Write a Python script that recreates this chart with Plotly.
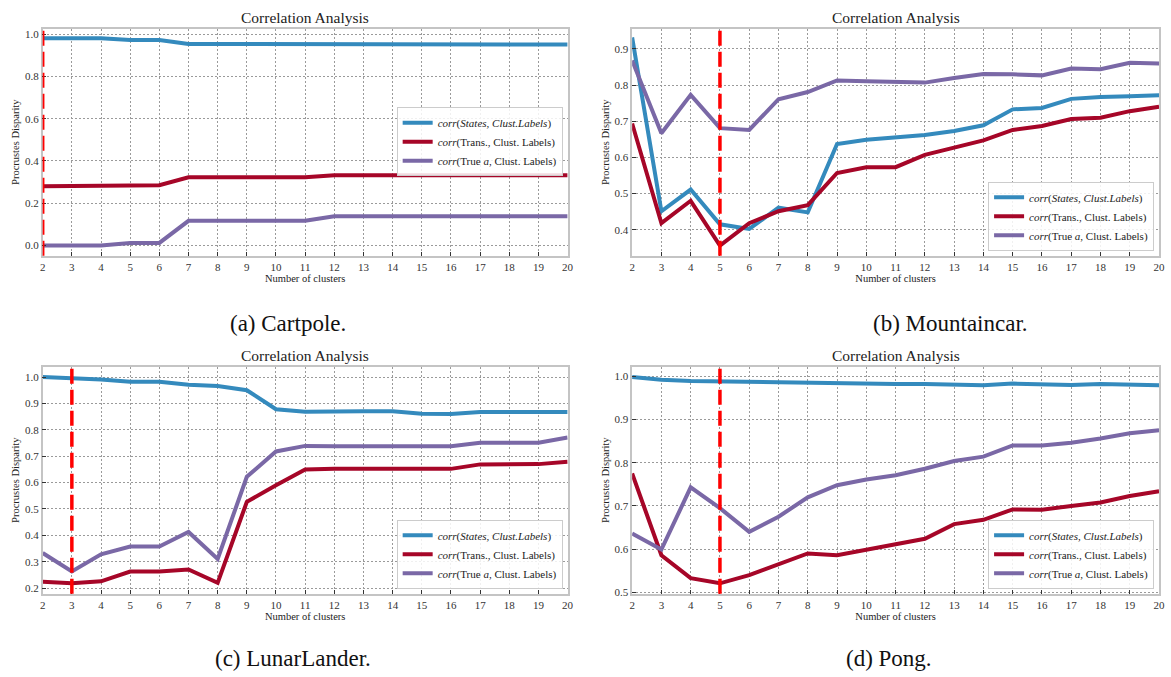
import plotly.graph_objects as go

clusters = list(range(2, 21))

# (a) Cartpole
cart_states = [0.98, 0.98, 0.98, 0.972, 0.972, 0.953, 0.953, 0.953, 0.953, 0.953, 0.95, 0.95, 0.95, 0.95, 0.95, 0.95, 0.95, 0.95, 0.95]
cart_trans = [0.281, 0.281, 0.281, 0.284, 0.285, 0.323, 0.323, 0.323, 0.323, 0.323, 0.333, 0.333, 0.333, 0.333, 0.333, 0.333, 0.333, 0.333, 0.333]
cart_true = [0.0, 0.0, 0.0, 0.0125, 0.0125, 0.117, 0.117, 0.117, 0.117, 0.117, 0.139, 0.139, 0.139, 0.139, 0.139, 0.139, 0.139, 0.139, 0.139]

# (b) Mountaincar
mount_states = [0.932, 0.451, 0.511, 0.415, 0.402, 0.461, 0.448, 0.637, 0.649, 0.656, 0.662, 0.673, 0.689, 0.733, 0.737, 0.762, 0.767, 0.769, 0.772]
mount_trans = [0.694, 0.418, 0.48, 0.356, 0.418, 0.451, 0.468, 0.557, 0.573, 0.573, 0.607, 0.626, 0.647, 0.676, 0.687, 0.706, 0.71, 0.728, 0.74]
mount_true = [0.868, 0.667, 0.773, 0.681, 0.676, 0.761, 0.781, 0.813, 0.811, 0.81, 0.807, 0.82, 0.831, 0.83, 0.827, 0.846, 0.844, 0.862, 0.86]

# (c) LunarLander
lunar_states = [1.0, 0.996, 0.991, 0.982, 0.982, 0.971, 0.966, 0.95, 0.878, 0.868, 0.87, 0.87, 0.87, 0.861, 0.86, 0.867, 0.867, 0.867, 0.867]
lunar_trans = [0.224, 0.219, 0.226, 0.263, 0.263, 0.271, 0.22, 0.527, 0.59, 0.65, 0.652, 0.652, 0.652, 0.652, 0.652, 0.669, 0.669, 0.67, 0.679]
lunar_true = [0.333, 0.263, 0.328, 0.358, 0.358, 0.413, 0.311, 0.622, 0.718, 0.739, 0.738, 0.738, 0.738, 0.738, 0.738, 0.751, 0.751, 0.751, 0.771]

# (d) Pong
pong_states = [0.998, 0.992, 0.989, 0.988, 0.986, 0.985, 0.984, 0.982, 0.982, 0.982, 0.982, 0.981, 0.979, 0.983, 0.982, 0.98, 0.982, 0.98, 0.979]
pong_trans = [0.775, 0.586, 0.533, 0.521, 0.54, 0.565, 0.59, 0.586, 0.599, 0.612, 0.624, 0.658, 0.668, 0.692, 0.691, 0.7, 0.708, 0.723, 0.734]
pong_true = [0.636, 0.599, 0.743, 0.695, 0.64, 0.675, 0.72, 0.748, 0.761, 0.771, 0.786, 0.804, 0.814, 0.84, 0.84, 0.846, 0.856, 0.868, 0.875]

chosen_k = [2, 5, 3, 5]
captions = ["(a) Cartpole.", "(b) Mountaincar.", "(c) LunarLander.", "(d) Pong."]
series_names = [
    "<i>corr</i>(<i>States, Clust.Labels</i>)",
    "<i>corr</i>(Trans., Clust. Labels)",
    "<i>corr</i>(True <i>a</i>, Clust. Labels)",
]
colors = ["#348ABD", "#A60628", "#7A68A6"]

panels = [
    [cart_states, cart_trans, cart_true],
    [mount_states, mount_trans, mount_true],
    [lunar_states, lunar_trans, lunar_true],
    [pong_states, pong_trans, pong_true],
]

W, H = 1171, 677
FONT = "Liberation Serif"

def px_x(p):
    return p / W

def px_y(p):
    return 1 - p / H

# layout geometry (pixels)
xdoms = [(40, 569), (634, 1165), (40, 569), (634, 1165)]
ydoms = [(28, 257), (28, 257), (369, 598), (369, 598)]
yranges = [(-0.048, 1.025), (0.328, 0.956), (0.179, 1.039), (0.497, 1.022)]
ydticks = [0.2, 0.1, 0.1, 0.1]
legend_pos = [
    (564, 142, "middle"),
    (1160, 252, "bottom"),
    (564, 593, "bottom"),
    (1160, 593, "bottom"),
]
caption_pos = [(287, 325), (955, 325), (292, 663), (893, 663)]

fig = go.Figure()
layout = dict(
    width=W, height=H,
    margin=dict(l=0, r=0, t=0, b=0),
    paper_bgcolor="white",
    plot_bgcolor="white",
    font=dict(family=FONT, color="#222222"),
    annotations=[],
    shapes=[],
)

for i in range(4):
    ax = "" if i == 0 else str(i + 1)
    xa = "x" + ax
    ya = "y" + ax
    leg = "legend" if i == 0 else "legend" + str(i + 1)
    for s in range(3):
        fig.add_trace(go.Scatter(
            x=clusters, y=panels[i][s], mode="lines", name=series_names[s],
            line=dict(color=colors[s], width=4),
            xaxis=xa, yaxis=ya, legend=leg, showlegend=True,
        ))
    x0, x1 = xdoms[i]
    y0, y1 = ydoms[i]
    common = dict(
        showline=True, linecolor="#c4c4c4", linewidth=1.5, mirror=True,
        showgrid=True, gridcolor="#9a9a9a", gridwidth=0.7, griddash="2px,2px",
        ticks="inside", ticklen=4, tickcolor="#333333", tickwidth=1,
        zeroline=False, tickfont=dict(family=FONT, size=11, color="#333333"),
    )
    layout["xaxis" + ax] = dict(
        common, domain=[px_x(x0), px_x(x1)], range=[2, 20],
        tickmode="array", tickvals=clusters, ticktext=[str(c) for c in clusters],
        anchor=ya,
        title=dict(text="Number of clusters", font=dict(family=FONT, size=10.5), standoff=1),
    )
    lo, hi = yranges[i]
    d = ydticks[i]
    layout["yaxis" + ax] = dict(
        common, domain=[px_y(y1), px_y(y0)], range=[lo, hi],
        dtick=d, tick0=0, tickformat=".1f", anchor=xa,
        title=dict(text="Procrustes Disparity", font=dict(family=FONT, size=10.5), standoff=3),
    )
    lx, ly, anch = legend_pos[i]
    layout[leg] = dict(
        x=px_x(lx), y=px_y(ly), xanchor="right", yanchor=anch,
        bgcolor="rgba(255,255,255,0.85)", bordercolor="#cccccc", borderwidth=1,
        font=dict(family=FONT, size=11, color="#222222"),
        tracegroupgap=0, itemwidth=30,
    )
    # chosen number of clusters marker
    layout["shapes"].append(dict(
        type="line", xref=xa, yref=ya + " domain", x0=chosen_k[i], x1=chosen_k[i],
        y0=0, y1=1, line=dict(color="#ff0000", width=3.5, dash="15px,6px"),
    ))
    layout["annotations"].append(dict(
        text="Correlation Analysis", x=px_x((x0 + x1) / 2), y=px_y(y0 - 11),
        xref="paper", yref="paper", showarrow=False, xanchor="center", yanchor="middle",
        font=dict(family=FONT, size=15.5, color="#222222"),
    ))
    cx, cy = caption_pos[i]
    layout["annotations"].append(dict(
        text=captions[i], x=px_x(cx), y=px_y(cy),
        xref="paper", yref="paper", showarrow=False, xanchor="center", yanchor="middle",
        font=dict(family=FONT, size=23, color="#111111"),
    ))

fig.update_layout(**layout)
fig.write_html("out.html")
